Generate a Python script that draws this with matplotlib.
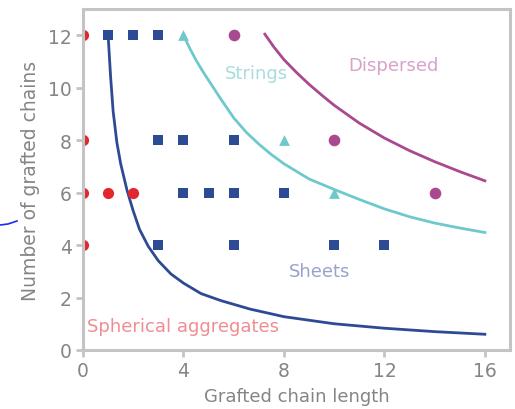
import matplotlib
matplotlib.use("Agg")
import matplotlib.pyplot as plt
from matplotlib.lines import Line2D

# phase diagram points (grafted chain length, number of grafted chains)
spherical_x = [0, 0, 0, 1, 2, 0]
spherical_y = [12, 8, 6, 6, 6, 4]

sheets_x = [1, 2, 3, 3, 4, 6, 4, 5, 6, 8, 3, 6, 10, 12]
sheets_y = [12, 12, 12, 8, 8, 8, 6, 6, 6, 6, 4, 4, 4, 4]

strings_x = [4, 8, 10]
strings_y = [12, 8, 6]

dispersed_x = [6, 10, 14]
dispersed_y = [12, 8, 6]

# boundary lines
sheet_bound_x = [1.0, 1.1, 1.2, 1.35, 1.5, 1.75, 2.0, 2.25, 2.6, 3.0, 3.5, 4.0,
                 4.7, 5.5, 6.65, 8, 10, 12, 14, 16]
sheet_bound_y = [12.0, 10.4, 9.1, 7.9, 7.1, 6.1, 5.3, 4.6, 3.95, 3.4, 2.9, 2.55,
                 2.15, 1.88, 1.56, 1.27, 1.0, 0.83, 0.7, 0.6]

string_bound_x = [4.0, 4.25, 4.5, 4.75, 5.0, 5.5, 6.0, 6.5, 7.0, 7.5, 8, 9, 10,
                  11, 12, 13, 14, 15, 16]
string_bound_y = [12.0, 11.5, 11.05, 10.65, 10.28, 9.55, 8.85, 8.3, 7.85, 7.45,
                  7.1, 6.52, 6.12, 5.74, 5.38, 5.08, 4.84, 4.65, 4.48]

disp_bound_x = [7.24, 7.6, 8.0, 8.5, 9.0, 9.5, 10, 11, 12, 13, 14, 15, 16]
disp_bound_y = [12.04, 11.55, 11.07, 10.58, 10.13, 9.72, 9.33, 8.65, 8.08,
                7.6, 7.18, 6.8, 6.45]

xticks = [0, 4, 8, 12, 16]
yticks = [0, 2, 4, 6, 8, 10, 12]

blue = '#2d4a94'
cyan = '#6ec9cd'
magenta = '#a9498f'
red = '#e2272e'
grey = '#c4c4c4'
text_grey = '#858585'

fig = plt.figure(figsize=(5.15, 4.10), dpi=100)
ax = fig.add_axes([83 / 515, 59 / 410, 427 / 515, 341 / 410])

ax.plot(sheet_bound_x, sheet_bound_y, color=blue, lw=2.0)
ax.plot(string_bound_x, string_bound_y, color=cyan, lw=2.0)
ax.plot(disp_bound_x, disp_bound_y, color=magenta, lw=2.0)

ax.scatter(sheets_x, sheets_y, marker='s', s=48, color=blue, zorder=3, linewidths=0)
ax.scatter(spherical_x, spherical_y, marker='o', s=65, color=red, zorder=3, linewidths=0)
ax.scatter(strings_x, strings_y, marker='^', s=60, color=cyan, zorder=3, linewidths=0)
ax.scatter(dispersed_x, dispersed_y, marker='o', s=70, color=magenta, zorder=3, linewidths=0)

ax.text(5.65, 10.55, 'Strings', color='#a8dcdf', fontsize=13, va='center')
ax.text(10.55, 10.86, 'Dispersed', color='#d9a2c9', fontsize=13, va='center')
ax.text(8.2, 3.0, 'Sheets', color='#98a3cb', fontsize=13, va='center')
ax.text(0.15, 0.9, 'Spherical aggregates', color='#f08d92', fontsize=13, va='center')

ax.set_xlim(0, 17)
ax.set_ylim(0, 13)
ax.set_xticks(xticks)
ax.set_yticks(yticks)
for s in ax.spines.values():
    s.set_color(grey)
    s.set_linewidth(2.2)
    s.set_zorder(5)
ax.tick_params(direction='out', length=5, width=2, color=grey,
               labelcolor=text_grey, labelsize=13.5, pad=3)
ax.set_xlabel('Grafted chain length', color=text_grey, fontsize=13, labelpad=5)
ax.set_ylabel('Number of grafted chains', color=text_grey, fontsize=13.5, labelpad=6)

# little blue pen stroke at the left edge
fig.add_artist(Line2D([0, 8, 17], [410 - 226, 410 - 225, 410 - 222],
                      transform=None, color='#1a2cf0', lw=1.2))

fig.savefig('out.png', dpi=100)
